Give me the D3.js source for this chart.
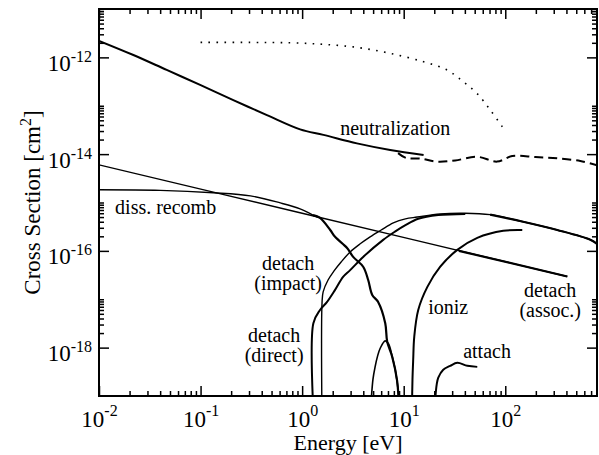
<!DOCTYPE html>
<html>
<head>
<meta charset="utf-8">
<script src="https://cdn.jsdelivr.net/npm/d3@7"></script>
<style>
  body { margin: 0; background: #fff; }
  svg { display: block; }
</style>
</head>
<body>
<svg id="chart" width="599" height="455"></svg>
<script>
// ---- axis ranges and tick decades ----
const energyDomain = [0.01, 800];        // eV
const sigmaDomain  = [1e-19, 1e-11];     // cm^2
const xTickPowers  = [-2, -1, 0, 1, 2];
const yTickPowers  = [-18, -16, -14, -12];

// ---- cross sections: [energy (eV), sigma (cm^2)] ----
const neutralization = [
  [0.01, 2.2e-12], [0.0218, 1.12e-12], [0.0464, 5.5e-13], [0.099, 2.7e-13],
  [0.21, 1.31e-13], [0.45, 6.4e-14], [0.955, 3.25e-14], [1.62, 2.5e-14],
  [3.46, 1.67e-14], [7.36, 1.22e-14], [15.7, 9.6e-15]
];
const neutralizationHigh = [
  [8.8, 1.05e-14], [10.6, 8.3e-15], [14.6, 8.1e-15], [21.4, 7.0e-15],
  [32.1, 7.4e-15], [53, 8.8e-15], [83, 7.0e-15], [117, 9.1e-15],
  [198, 8.7e-15], [325, 8.2e-15], [548, 7.2e-15], [800, 5.9e-15]
];
const neutralizationAlt = [
  [0.1, 2.04e-12], [0.31, 2.04e-12], [0.76, 2.0e-12], [1.62, 1.86e-12],
  [3.46, 1.61e-12], [7.36, 1.21e-12], [15.7, 8.1e-13], [26.7, 5.5e-13],
  [38.8, 3.1e-13], [52.6, 1.8e-13], [71.1, 8.2e-14], [96, 3.4e-14]
];
const dissRecomb = [
  [0.01, 1.83e-15], [0.04, 1.78e-15], [0.133, 1.59e-15], [0.31, 1.37e-15],
  [0.61, 9.8e-16], [0.955, 7.4e-16], [1.28, 5.5e-16], [1.5, 4.8e-16],
  [1.89, 2.7e-16], [2.11, 1.95e-16], [2.77, 1.15e-16], [3.18, 7.5e-17],
  [3.99, 4.7e-17], [4.47, 2.5e-17], [4.9, 1.23e-17], [5.6, 8.8e-18],
  [6.58, 3.2e-18], [6.88, 1.32e-18], [7.7, 6.5e-19], [8.6, 2.1e-19],
  [8.95, 7e-20]
];
const detachAssocLow = [[0.01, 6.0e-15], [1, 6.0e-16], [408, 2.95e-17]];
const detachAssoc    = [[35, 1.0e-16], [408, 2.95e-17]];
const detachDirect = [
  [1.29, 5e-20], [1.29, 3.2e-18], [1.50, 6.0e-18], [1.76, 8.8e-18],
  [2.11, 1.56e-17], [2.53, 2.9e-17], [2.97, 4.0e-17], [3.99, 7.5e-17],
  [6.28, 1.69e-16], [8.2, 2.5e-16], [10.4, 3.4e-16], [13.9, 4.6e-16],
  [21.9, 5.5e-16], [40.4, 5.8e-16]
];
const detachImpact = [
  [1.565, 5e-20], [1.57, 8.4e-18], [1.61, 1.42e-17], [1.80, 2.5e-17],
  [2.07, 3.9e-17], [2.42, 5.9e-17], [2.97, 9.5e-17], [3.73, 1.4e-16],
  [4.67, 1.95e-16], [6.0, 2.7e-16], [7.9, 3.8e-16], [10.4, 4.6e-16],
  [13.6, 5.0e-16], [22.9, 5.8e-16], [40, 6.0e-16], [71, 5.6e-16],
  [150, 4.0e-16], [325, 2.7e-16], [687, 1.7e-16], [800, 1.4e-16]
];
const resonance = [
  [4.77, 7e-20], [4.98, 2.2e-19], [5.24, 4.1e-19], [5.52, 6.6e-19],
  [5.87, 9.7e-19], [6.57, 1.38e-18], [7.08, 1.2e-18], [7.65, 7.0e-19],
  [8.25, 3.5e-19], [8.69, 1.7e-19], [8.97, 9e-20]
];
const ioniz = [
  [12.05, 5e-20], [12.2, 2.2e-19], [12.4, 5.6e-19], [12.7, 1.67e-18],
  [13.9, 6.0e-18], [17.1, 1.8e-17], [22.9, 4.7e-17], [33.7, 1.05e-16],
  [53, 1.86e-16], [95.5, 2.6e-16], [147, 2.7e-16]
];
const attach = [
  [20.3, 7e-20], [21.1, 1.7e-19], [21.9, 2.4e-19], [24.5, 3.5e-19],
  [28.7, 4.2e-19], [33.7, 4.85e-19], [42.3, 4.2e-19], [53, 4.0e-19]
];

// ---- layout ----
const serif = "'Liberation Serif', 'Times New Roman', Times, serif";
const plot = { left: 99, top: 9, right: 597, bottom: 396 };

const svg = d3.select("#chart");
const x = d3.scaleLog().domain(energyDomain).range([plot.left, plot.right]);
const y = d3.scaleLog().domain(sigmaDomain).range([plot.bottom, plot.top]);

// minor ticks: 2..9 per energy decade; 2..10 above each labelled sigma decade
const xMinor = [];
xTickPowers.forEach(p => { for (let k = 2; k <= 9; k++) { const v = k * Math.pow(10, p); if (v < energyDomain[1]) xMinor.push(v); } });
const yMinor = [];
yTickPowers.forEach(p => { for (let k = 2; k <= 10; k++) yMinor.push(k * Math.pow(10, p)); });
const xMajor = xTickPowers.map(p => Math.pow(10, p));
const yMajor = yTickPowers.map(p => Math.pow(10, p));

function drawAxis(axis, tx, ty) {
  const g = svg.append("g")
    .attr("transform", `translate(${tx},${ty})`)
    .call(axis);
  g.attr("font-size", null).attr("font-family", serif);
  g.select(".domain").remove();
  g.selectAll(".tick line").attr("stroke", "#000").attr("stroke-width", 1.5);
  return g;
}
function superscriptLabels(g, supDy) {
  g.selectAll(".tick text").each(function (d) {
    const t = d3.select(this);
    const p = Math.round(Math.log10(d));
    t.text(null).attr("font-size", 23).attr("fill", "#000");
    t.append("tspan").text("10");
    t.append("tspan").attr("dy", supDy).attr("font-size", 16).text(p);
  });
}
const noLabel = () => "";

// bottom
drawAxis(d3.axisBottom(x).tickValues(xMinor).tickSizeInner(-5).tickSizeOuter(0).tickFormat(noLabel), 0, plot.bottom);
const gb = drawAxis(d3.axisBottom(x).tickValues(xMajor).tickSizeInner(-10).tickSizeOuter(0).tickFormat(d => d), 0, plot.bottom);
gb.selectAll(".tick text").attr("y", 30.5).attr("dy", 0);
superscriptLabels(gb, -11);
// top
drawAxis(d3.axisTop(x).tickValues(xMinor).tickSizeInner(-5).tickSizeOuter(0).tickFormat(noLabel), 0, plot.top);
drawAxis(d3.axisTop(x).tickValues(xMajor).tickSizeInner(-10).tickSizeOuter(0).tickFormat(noLabel), 0, plot.top);
// left
drawAxis(d3.axisLeft(y).tickValues(yMinor).tickSizeInner(-5).tickSizeOuter(0).tickFormat(noLabel), plot.left, 0);
const gl = drawAxis(d3.axisLeft(y).tickValues(yMajor).tickSizeInner(-10).tickSizeOuter(0).tickFormat(d => d), plot.left, 0);
gl.selectAll(".tick text").attr("x", -7).attr("y", 13).attr("dy", 0);
superscriptLabels(gl, -9);
// right
drawAxis(d3.axisRight(y).tickValues(yMinor).tickSizeInner(-5).tickSizeOuter(0).tickFormat(noLabel), plot.right, 0);
drawAxis(d3.axisRight(y).tickValues(yMajor).tickSizeInner(-10).tickSizeOuter(0).tickFormat(noLabel), plot.right, 0);

// ---- curves ----
svg.append("clipPath").attr("id", "plotClip")
  .append("rect")
  .attr("x", plot.left).attr("y", plot.top)
  .attr("width", plot.right - plot.left).attr("height", plot.bottom - plot.top);

const curves = svg.append("g").attr("clip-path", "url(#plotClip)");
const line = d3.line().x(d => x(d[0])).y(d => y(d[1])).curve(d3.curveCatmullRom.alpha(0.5));

function drawCurve(data, width, dash) {
  curves.append("path")
    .datum(data)
    .attr("d", line)
    .attr("fill", "none")
    .attr("stroke", "#000")
    .attr("stroke-width", width)
    .attr("stroke-linejoin", "round")
    .attr("stroke-dasharray", dash || null);
}

drawCurve(neutralizationAlt, 1.6, "1.6,6.4");
drawCurve(neutralization, 2);
drawCurve(neutralizationHigh, 2, "9,5");
drawCurve(detachAssocLow, 1.4);
drawCurve(detachAssoc, 2.2);
drawCurve(dissRecomb.filter(d => d[0] <= 1.5), 1.4);
drawCurve(dissRecomb.filter(d => d[0] >= 1.28), 2.2);
drawCurve(detachImpact, 1.4);
drawCurve(detachImpact.filter(d => d[0] >= 71), 2.2);
drawCurve(detachDirect, 2);
drawCurve(resonance, 1.6);
drawCurve(ioniz, 2);
drawCurve(attach, 2);

// ---- frame ----
svg.append("rect")
  .attr("x", plot.left).attr("y", plot.top)
  .attr("width", plot.right - plot.left).attr("height", plot.bottom - plot.top)
  .attr("fill", "none").attr("stroke", "#000").attr("stroke-width", 2);

// ---- process labels (placed in data space) ----
const labelGroup = svg.append("g").attr("font-family", serif).attr("font-size", 20).attr("fill", "#000");
function label(lines, e, s, anchor) {
  const t = labelGroup.append("text")
    .attr("x", x(e)).attr("y", y(s))
    .attr("text-anchor", anchor);
  lines.forEach((str, i) => {
    t.append("tspan").attr("x", x(e)).attr("dy", i === 0 ? 0 : 20).text(str);
  });
}
label(["neutralization"], 2.37, 2.5e-14, "start");
label(["diss. recomb"], 0.0144, 5.65e-16, "start");
label(["detach", "(impact)"], 0.728, 4.03e-17, "middle");
label(["detach", "(direct)"], 0.53, 1.33e-18, "middle");
label(["ioniz"], 17.4, 5.0e-18, "start");
label(["attach"], 38.5, 6.1e-19, "start");
label(["detach", "(assoc.)"], 277, 1.12e-17, "middle");

// ---- axis titles ----
svg.append("text")
  .attr("x", (plot.left + plot.right) / 2).attr("y", 450)
  .attr("text-anchor", "middle")
  .attr("font-family", serif).attr("font-size", 22).attr("fill", "#000")
  .text("Energy [eV]");

const yt = svg.append("text")
  .attr("transform", `translate(40,${(plot.top + plot.bottom) / 2}) rotate(-90)`)
  .attr("text-anchor", "middle")
  .attr("font-family", serif).attr("font-size", 23).attr("fill", "#000");
yt.append("tspan").text("Cross Section [cm");
yt.append("tspan").attr("dy", -9).attr("font-size", 16).text("2");
yt.append("tspan").attr("dy", 9).text("]");
</script>
</body>
</html>
